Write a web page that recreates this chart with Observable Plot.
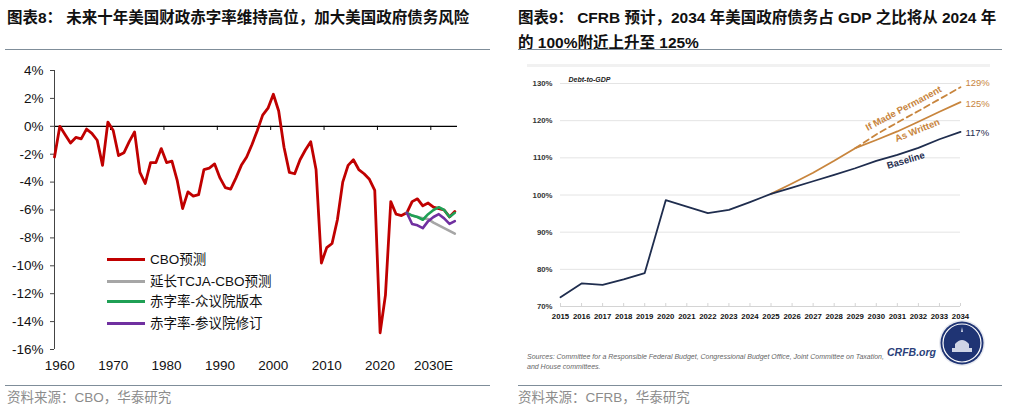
<!DOCTYPE html>
<html><head><meta charset="utf-8">
<script src="https://cdn.jsdelivr.net/npm/d3@7"></script>
<script src="https://cdn.jsdelivr.net/npm/@observablehq/plot@0.6"></script>
<style>
body{margin:0;background:#fff;width:1011px;height:419px;position:relative;overflow:hidden;font-family:"Liberation Sans","Noto Sans CJK SC",sans-serif;}
.abs{position:absolute;}
.title{position:absolute;font-weight:bold;font-size:15.5px;color:#111;line-height:25px;white-space:nowrap;font-family:"Liberation Sans","Noto Sans CJK SC",sans-serif;}
.sep{position:absolute;height:0;border-top:1.5px solid #7f8d99;}
.src{position:absolute;font-size:13.5px;color:#8c8c8c;font-family:"Liberation Sans","Noto Sans CJK SC",sans-serif;white-space:nowrap;line-height:18px;}
.leg{position:absolute;left:107px;font-size:13.5px;color:#111;white-space:nowrap;line-height:20px;font-family:"Liberation Sans","Noto Sans CJK SC",sans-serif;}
.leg span.sw{display:inline-block;width:38px;height:3px;vertical-align:middle;margin-right:5px;position:relative;top:-1px;}
</style></head><body>

<div class="title" style="left:7px;top:5px;">图表8：<span style="margin-left:4px"></span>未来十年美国财政赤字率维持高位，加大美国政府债务风险</div>
<div class="sep" style="left:5px;top:49px;width:485px;"></div>
<div class="title" style="left:518px;top:5px;">图表9：<span style="margin-left:4px"></span>CFRB 预计，2034 年美国政府债务占 GDP 之比将从 2024 年<br>的 100%附近上升至 125%</div>
<div class="sep" style="left:518px;top:49px;width:484px;"></div>

<div id="left" class="abs" style="left:0;top:60px;"></div>
<div id="right" class="abs" style="left:510px;top:60px;"></div>

<div class="abs" style="left:527px;top:64px;width:463px;height:0;border-top:3px solid #f1f1f1;"></div>

<div id="legend"></div>

<div class="abs" style="left:527px;top:352px;font-size:7px;font-style:italic;color:#666;line-height:9.5px;white-space:nowrap;">Sources: Committee for a Responsible Federal Budget, Congressional Budget Office, Joint Committee on Taxation,<br>and House committees.</div>
<div class="abs" style="left:887px;top:346px;font-size:10.5px;font-weight:bold;font-style:italic;color:#2b3f7a;">CRFB.org</div>
<svg class="abs" style="left:938px;top:319px;" width="48" height="48">
  <circle cx="24" cy="24" r="23" fill="#e8eaf0"/>
  <circle cx="24" cy="24" r="21.5" fill="#1f3474"/>
  <circle cx="24" cy="24" r="19" fill="none" stroke="#fff" stroke-width="1.2"/>
  <path d="M14 33 h20 v-4 h-3 v-4 h-14 v4 h-3z" fill="#cfd5e6"/>
  <path d="M17 25 q7 -8 14 0z" fill="#cfd5e6"/>
  <path d="M24 8 l1 5 l-2 0z" fill="#cfd5e6"/>
</svg>

<div class="sep" style="left:5px;top:385px;width:485px;"></div>
<div class="sep" style="left:518px;top:385px;width:484px;"></div>
<div class="src" style="left:7px;top:389px;">资料来源：CBO，华泰研究</div>
<div class="src" style="left:518px;top:389px;">资料来源：CFRB，华泰研究</div>

<script>
// ---------- Left chart data: US deficit, % of GDP ----------
const years = d3.range(1959, 2035);
const cboDeficit = [
  -2.2, 0.0, -0.6, -1.2, -0.8, -0.9, -0.2, -0.5, -1.0, -2.8, // 1959-1968
  0.3, -0.3, -2.1, -1.9, -1.1, -0.4, -3.3, -4.1, -2.6, -2.6, // 1969-1978
  -1.6, -2.6, -2.5, -3.9, -5.9, -4.7, -5.0, -4.9, -3.1, -3.0, // 1979-1988
  -2.7, -3.7, -4.4, -4.5, -3.7, -2.8, -2.2, -1.3, -0.3, 0.8,  // 1989-1998
  1.3, 2.3, 1.1, -1.5, -3.3, -3.4, -2.4, -1.7, -1.1, -3.1,    // 1999-2008
  -9.8, -8.7, -8.4, -6.7, -4.0, -2.8, -2.4, -3.1, -3.4, -3.8, // 2009-2018
  -4.6, -14.8, -12.1, -5.4, -6.3, -6.4, -6.2, -5.4, -5.2, -5.7, // 2019-2028
  -5.5, -5.8, -5.9, -6.0, -6.5, -6.1                          // 2029-2034
];
const projYears = d3.range(2025, 2035);
const tcjaDeficit   = [-6.2, -6.4, -6.5, -6.6, -6.65, -6.9, -7.1, -7.3, -7.5, -7.7];
const houseDeficit  = [-6.2, -6.4, -6.5, -6.7, -6.3, -6.0, -5.8, -6.0, -6.5, -6.2];
const senateDeficit = [-6.2, -7.0, -7.1, -7.3, -6.8, -6.5, -6.3, -6.6, -7.0, -6.8];
const seriesNames = ["CBO预测", "延长TCJA-CBO预测", "赤字率-众议院版本", "赤字率-参议院修订"];
const seriesColors = ["#c00000", "#a6a6a6", "#1fa055", "#7030a0"];
const decadeTicks = [1960, 1970, 1980, 1990, 2000, 2010, 2020, 2030];
const decadeLabels = ["1960", "1970", "1980", "1990", "2000", "2010", "2020", "2030E"];
const yTicksLeft = d3.range(-16, 5, 2);

// ---------- Right chart data: Debt-to-GDP, % ----------
const debtYears = d3.range(2015, 2035);
const baselineDebt = [72.5, 76.2, 75.8, 77.3, 79.0, 98.6, 96.9, 95.1, 96.0, 98.1, // 2015-2024
  100.3, 102.0, 103.7, 105.4, 107.2, 109.2, 110.8, 112.7, 115.0, 117.0];          // 2025-2034
const writtenYears = d3.range(2025, 2035);
const asWrittenDebt = [100.3, 103.1, 106.0, 109.2, 112.6, 114.8, 117.1, 119.7, 122.4, 125.0];
const permYears = d3.range(2029, 2035);
const permanentDebt = [112.6, 116.3, 119.5, 122.6, 125.8, 129.0];
const yTicksRight = d3.range(70, 131, 10);
const navy = "#1f2d4e", tan = "#c8853d";

const rows = (xs, ys) => xs.map((x, i) => ({year: x, value: ys[i]}));

// ---------- Left plot ----------
const left = Plot.plot({
  width: 470, height: 320,
  marginLeft: 54, marginRight: 13, marginTop: 10, marginBottom: 31,
  style: {fontFamily: "Liberation Sans", fontSize: "13.5px", color: "#111", background: "transparent"},
  x: {domain: [1959, 2034.5]},
  y: {domain: [-16, 4]},
  marks: [
    Plot.ruleY([0], {stroke: "#000", strokeWidth: 1.3}),
    Plot.ruleX(decadeTicks.slice(1).map(d => d - 0.5), {y1: 0, y2: -0.3, stroke: "#000"}),
    Plot.ruleX([1959], {y1: -16, y2: 4, stroke: "#444"}),
    Plot.axisY({ticks: yTicksLeft, tickFormat: d => d + "%", tickSize: 4, tickPadding: 7, label: null, stroke: "#444"}),
    Plot.axisX({ticks: decadeTicks, tickFormat: d => decadeLabels[decadeTicks.indexOf(d)], tickSize: 0, tickPadding: 11, label: null}),
    Plot.line(rows(years, cboDeficit), {x: "year", y: "value", stroke: seriesColors[0], strokeWidth: 2.8}),
    Plot.line(rows(projYears, tcjaDeficit), {x: "year", y: "value", stroke: seriesColors[1], strokeWidth: 2.6}),
    Plot.line(rows(projYears, houseDeficit), {x: "year", y: "value", stroke: seriesColors[2], strokeWidth: 2.6}),
    Plot.line(rows(projYears, senateDeficit), {x: "year", y: "value", stroke: seriesColors[3], strokeWidth: 2.6})
  ]
});
document.getElementById("left").appendChild(left);

// legend
const legendTops = [250, 272, 292, 314];
const legend = document.getElementById("legend");
seriesNames.forEach((name, i) => {
  const d = document.createElement("div");
  d.className = "leg";
  d.style.top = legendTops[i] + "px";
  d.innerHTML = `<span class="sw" style="background:${seriesColors[i]}"></span>${name}`;
  legend.appendChild(d);
});

// ---------- Right plot ----------
const right = Plot.plot({
  width: 501, height: 270,
  marginLeft: 50, marginRight: 51, marginTop: 23, marginBottom: 24,
  style: {fontFamily: "Liberation Sans", fontSize: "7.8px", fontWeight: "bold", color: "#333", background: "transparent"},
  x: {domain: [2015, 2034]},
  y: {domain: [70, 130]},
  marks: [
    Plot.ruleY(yTicksRight.slice(1), {stroke: "#e4e4e4"}),
    Plot.ruleY([70], {stroke: "#d4d4d4"}),
    Plot.ruleX(debtYears, {y1: 70, y2: 70.8, stroke: "#d4d4d4"}),
    Plot.axisY({ticks: yTicksRight, tickFormat: d => d + "%", tickSize: 0, tickPadding: 8, label: null}),
    Plot.axisX({ticks: debtYears, tickFormat: d => String(d), tickSize: 0, tickPadding: 7, label: null, fill: "#111"}),
    Plot.text(["Debt-to-GDP"], {frameAnchor: "top-left", dx: 8, dy: -6, textAnchor: "start", fontStyle: "italic", fontSize: 7, fill: "#222"}),
    Plot.line(rows(writtenYears, asWrittenDebt), {x: "year", y: "value", stroke: tan, strokeWidth: 1.8}),
    Plot.line(rows(permYears, permanentDebt), {x: "year", y: "value", stroke: tan, strokeWidth: 1.8, strokeDasharray: "6,4"}),
    Plot.line(rows(debtYears, baselineDebt), {x: "year", y: "value", stroke: navy, strokeWidth: 1.8}),
    Plot.text([{year: 2034, value: permanentDebt[permanentDebt.length - 1], t: "129%"}], {x: "year", y: "value", text: "t", textAnchor: "start", dx: 5, dy: -4, fill: tan, fontWeight: "normal", fontSize: 9.5}),
    Plot.text([{year: 2034, value: asWrittenDebt[asWrittenDebt.length - 1], t: "125%"}], {x: "year", y: "value", text: "t", textAnchor: "start", dx: 5, dy: 2, fill: tan, fontWeight: "normal", fontSize: 9.5}),
    Plot.text([{year: 2034, value: baselineDebt[baselineDebt.length - 1], t: "117%"}], {x: "year", y: "value", text: "t", textAnchor: "start", dx: 5, dy: 1, fill: navy, fontWeight: "normal", fontSize: 9.5}),
    Plot.text([{year: 2031.3, value: 123.3, t: "If Made Permanent"}], {x: "year", y: "value", text: "t", rotate: -28, fill: tan, fontSize: 9.5}),
    Plot.text([{year: 2031.95, value: 117.4, t: "As Written"}], {x: "year", y: "value", text: "t", rotate: -22, fill: tan, fontSize: 9.5}),
    Plot.text([{year: 2031.4, value: 109.3, t: "Baseline"}], {x: "year", y: "value", text: "t", rotate: -17, fill: navy, fontSize: 9.5})
  ]
});
document.getElementById("right").appendChild(right);
</script>
</body></html>
